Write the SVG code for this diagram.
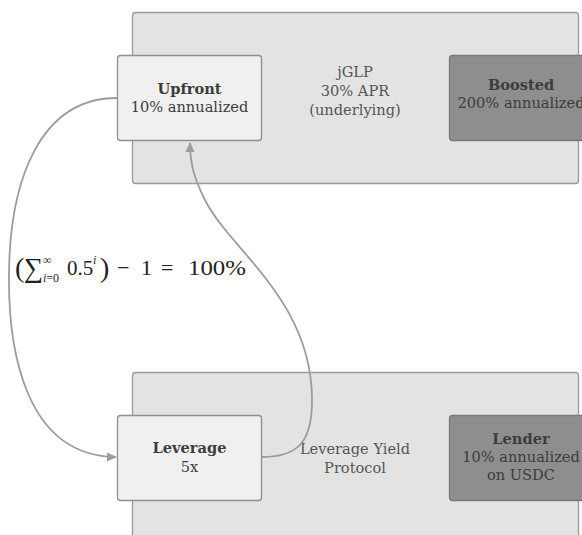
<svg xmlns="http://www.w3.org/2000/svg" width="582" height="535" viewBox="0 0 582 535">
<style>
.container{fill:#e3e3e3;stroke:#9a9a9a;stroke-width:1.3}
.light{fill:#f0f0f0;stroke:#8f8f8f;stroke-width:1.3}
.dark{fill:#8e8e8e;stroke:#7a7a7a;stroke-width:1.3}
.t{font-family:"DejaVu Serif","Liberation Serif",serif;font-size:14.6px;text-anchor:middle;fill:#3c3c3c}
.b{font-weight:bold}
.mid{fill:#555}
.conn{fill:none;stroke:#9c9c9c;stroke-width:1.8}
.m{font-family:"Liberation Serif","Times New Roman",serif;fill:#222}
</style>
<defs>
<marker id="arr" viewBox="0 0 10 10" refX="9" refY="5" markerWidth="10" markerHeight="10" markerUnits="userSpaceOnUse" orient="auto">
<path d="M0,0.5 L10,5 L0,9.5 Z" fill="#9c9c9c"/>
</marker>
</defs>
<rect width="582" height="535" fill="#ffffff"/>
<g id="jglp">
<rect class="container" x="132.5" y="12.5" width="446" height="171" rx="3"/>
<text class="t mid" x="355" y="77">jGLP</text>
<text class="t mid" x="355" y="96">30% APR</text>
<text class="t mid" x="355" y="115">(underlying)</text>
</g>
<g id="lyp">
<rect class="container" x="132.5" y="372.5" width="446" height="180" rx="3"/>
<text class="t mid" x="355" y="454">Leverage Yield</text>
<text class="t mid" x="355" y="473">Protocol</text>
</g>
<g id="upfront">
<rect class="light" x="117.5" y="55.5" width="144" height="85" rx="3"/>
<text class="t b" x="189.5" y="94">Upfront</text>
<text class="t" x="189.5" y="112">10% annualized</text>
</g>
<g id="boosted">
<rect class="dark" x="449.5" y="55.5" width="150" height="85" rx="3"/>
<text class="t b" x="521" y="90">Boosted</text>
<text class="t" x="521" y="108">200% annualized</text>
</g>
<g id="leverage">
<rect class="light" x="117.5" y="415.5" width="144" height="85" rx="3"/>
<text class="t b" x="189.5" y="453">Leverage</text>
<text class="t" x="189.5" y="472">5x</text>
</g>
<g id="lender">
<rect class="dark" x="449.5" y="415.5" width="150" height="85" rx="3"/>
<text class="t b" x="521" y="444">Lender</text>
<text class="t" x="521" y="462">10% annualized</text>
<text class="t" x="521" y="480">on USDC</text>
</g>
<g id="connectors">
<path class="conn" marker-end="url(#arr)" d="M117,98 C40,98 10,180 9,273 C8,350 25,456 116,457"/>
<path class="conn" marker-end="url(#arr)" d="M262,457 C300,457 312,440 312,400 C312,300 230,250 205,200 C195,180 190,165 190,143"/>
</g>
<g id="formula">
<text class="m" font-size="28" x="15" y="277">(</text>
<text class="m" font-size="27" x="24" y="277">∑</text>
<text class="m" font-size="12" x="43" y="264">∞</text>
<text class="m" font-size="12" x="43" y="282"><tspan font-style="italic">i</tspan>=0</text>
<text class="m" font-size="21" x="67" y="275">0.5</text>
<text class="m" font-size="12" x="93" y="264" font-style="italic">i</text>
<text class="m" font-size="28" x="100" y="277">)</text>
<text class="m" font-size="22" x="117" y="275">−</text>
<text class="m" font-size="22" x="141" y="275">1</text>
<text class="m" font-size="22" x="161" y="275">=</text>
<text class="m" font-size="22" x="188" y="275" textLength="58" lengthAdjust="spacingAndGlyphs">100%</text>
</g>
</svg>
